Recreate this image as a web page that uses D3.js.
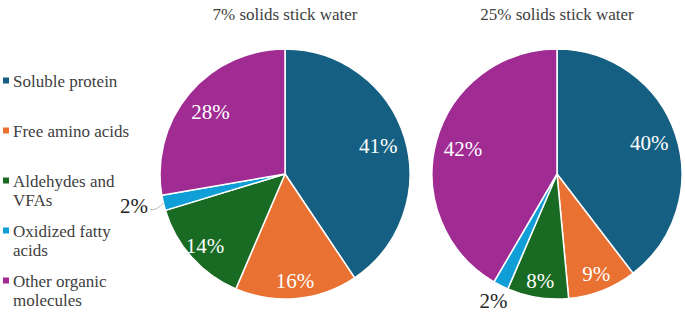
<!DOCTYPE html>
<html>
<head>
<meta charset="utf-8">
<script src="https://cdn.jsdelivr.net/npm/d3@7"></script>
</head>
<body style="margin:0">
<svg id="chart" width="685" height="313" font-family="Liberation Serif, Tinos, Times New Roman"></svg>
<script>
// ---- data ----
const categories = ["Soluble protein", "Free amino acids", "Aldehydes and VFAs", "Oxidized fatty acids", "Other organic molecules"];
const legendLines = [["Soluble protein"], ["Free amino acids"], ["Aldehydes and", "VFAs"], ["Oxidized fatty", "acids"], ["Other organic", "molecules"]];
const colors = ["#156082", "#E97132", "#196B24", "#0F9ED5", "#A02B93"];
const chartTitles = ["7% solids stick water", "25% solids stick water"];
const values7 = [41, 16, 14, 2, 28];
const values25 = [40, 9, 8, 2, 42];

// ---- layout ----
const svg = d3.select("#chart");
const R = 125;
const pieX = d3.scalePoint().domain(chartTitles).range([285, 557]);
const cy = 174;
const FONT = "Liberation Serif, Tinos, Times New Roman";

const pie = d3.pie().sort(null).value(d => d.v);
const arc = d3.arc().innerRadius(0).outerRadius(R);

function addText(parent) {
  return parent.append("text").attr("font-family", FONT).style("font-family", '"Liberation Serif", "Tinos", "Times New Roman"');
}

[values7, values25].forEach((vals, pi) => {
  const title = chartTitles[pi];
  const cx = pieX(title);
  const g = svg.append("g").attr("transform", `translate(${cx},${cy})`);
  const data = vals.map((v, i) => ({ v, cat: categories[i], i }));
  const arcs = pie(data);

  g.selectAll("path.slice").data(arcs).join("path")
    .attr("class", "slice")
    .attr("d", arc)
    .attr("fill", d => colors[d.data.i])
    .attr("stroke", "#fff")
    .attr("stroke-width", 1.5)
    .attr("stroke-linejoin", "round");

  arcs.forEach(d => {
    const a = (d.startAngle + d.endAngle) / 2;
    const inside = d.data.v >= 5;
    const side = Math.abs(Math.sin(a)) > 0.7;
    const lr = inside ? (d.data.v >= 20 ? 0.78 * R : 0.86 * R) : (side ? 1.2 * R : 1.13 * R);
    let x = Math.sin(a) * lr, y = -Math.cos(a) * lr;
    if (!inside && side) {
      x -= 5; y -= 3;
      const x0 = Math.sin(a) * R, y0 = -Math.cos(a) * R;
      const x1 = x + 16, y1 = y + 4;
      g.append("path")
        .attr("d", `M${x1},${y1} Q${(x0 + x1) / 2},${y1 + 1} ${x0},${y0}`)
        .attr("fill", "none")
        .attr("stroke", "#a6a6a6")
        .attr("stroke-width", 0.8);
    }
    addText(g)
      .attr("x", x)
      .attr("y", y)
      .attr("dy", "0.35em")
      .attr("text-anchor", "middle")
      .attr("font-size", 21)
      .attr("fill", inside ? "#fff" : "#262626")
      .text(d.data.v + "%");
  });

  addText(svg)
    .attr("x", cx)
    .attr("y", 20)
    .attr("text-anchor", "middle")
    .attr("font-size", 17)
    .attr("fill", "#404040")
    .text(title);
});

// ---- legend ----
const legendY = d3.scalePoint().domain(categories).range([81, 281]);
const lg = svg.append("g");
categories.forEach((c, i) => {
  const y = legendY(c);
  lg.append("rect")
    .attr("x", 3).attr("y", y - 3.5)
    .attr("width", 6).attr("height", 6)
    .attr("fill", colors[i]);
  const t = addText(lg)
    .attr("x", 13)
    .attr("y", y)
    .attr("font-size", 17)
    .attr("fill", "#404040");
  legendLines[i].forEach((ln, j) => {
    t.append("tspan").attr("x", 13).attr("dy", j === 0 ? "0.35em" : "1.1em").text(ln);
  });
});
</script>
</body>
</html>
